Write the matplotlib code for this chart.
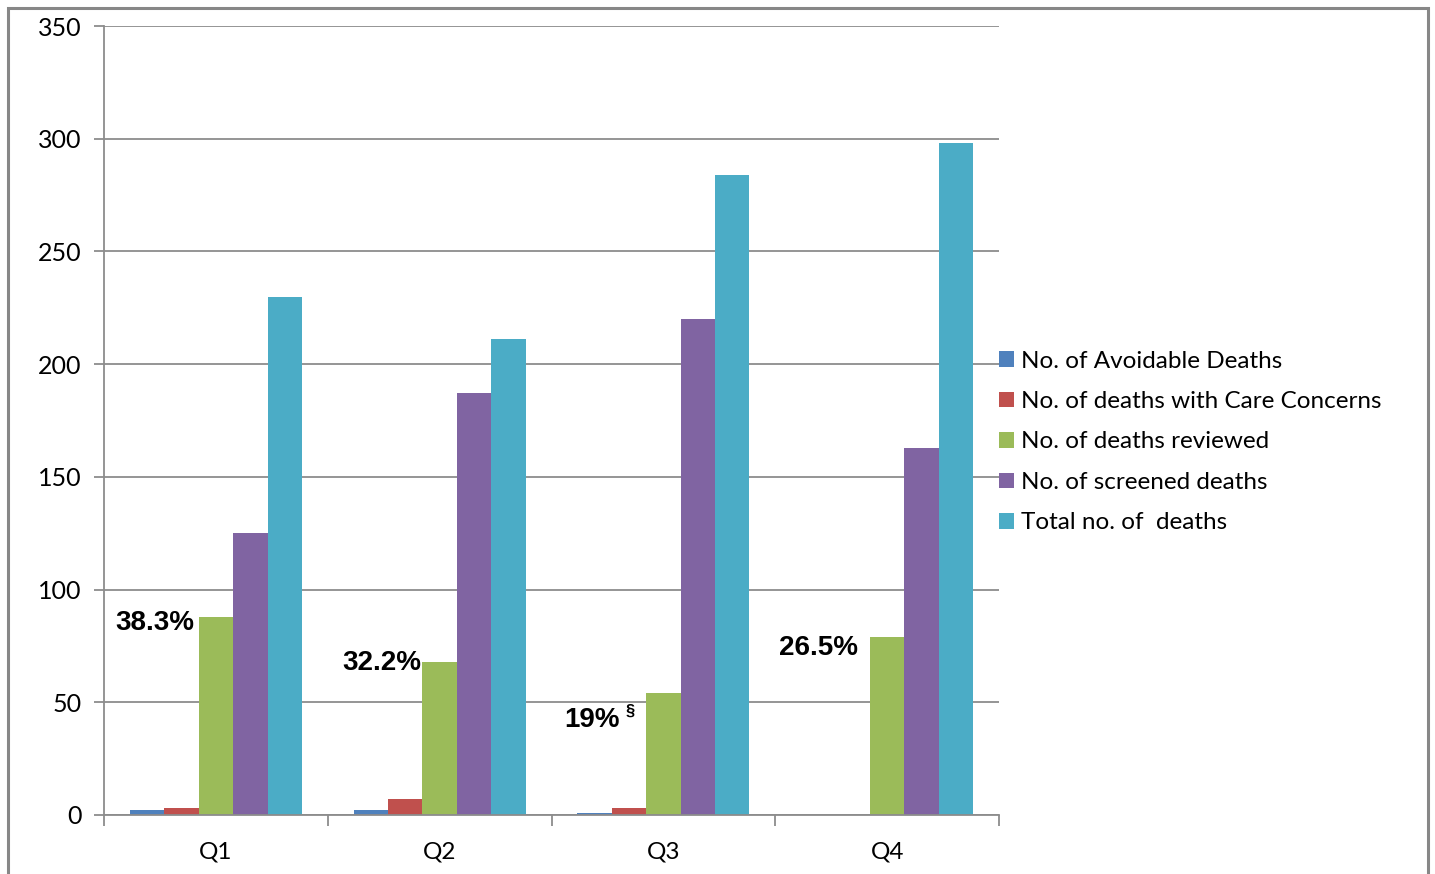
import matplotlib
matplotlib.use("Agg")
import matplotlib.pyplot as plt
import matplotlib.patches as mpatches
import numpy as np

quarters = ["Q1", "Q2", "Q3", "Q4"]
avoidable = [2, 2, 1, 0]
care_concerns = [3, 7, 3, 0]
reviewed = [88, 68, 54, 79]
screened = [125, 187, 220, 163]
total = [230, 211, 284, 298]

series_names = [
    "No. of Avoidable Deaths",
    "No. of deaths with Care Concerns",
    "No. of deaths reviewed",
    "No. of screened deaths",
    "Total no. of  deaths",
]
colors = ["#4F81BD", "#C0504D", "#9BBB59", "#8064A2", "#4BACC6"]
# review-rate labels: height (data units), gap to the green bar (px), footnote
label_y = [85.2, 67.4, 42.1, 74.1]
label_gap = [4, 1, 26, 12]
footnotes = ["", "", "§", ""]

plt.rcParams["font.family"] = ["Lato", "DejaVu Sans"]
grid_col = "#8C8C8C"

fig = plt.figure(figsize=(14.35, 8.74), dpi=100)
ax = fig.add_axes([104 / 1435, 1 - 815 / 874, 895 / 1435, 789 / 874])

series = [avoidable, care_concerns, reviewed, screened, total]
bw = 1 / 6.5
x = np.arange(len(quarters))
for i, (vals, name, c) in enumerate(zip(series, series_names, colors)):
    offs = -0.5 + 0.75 * bw + (i + 0.5) * bw
    ax.bar(x + offs, vals, width=bw, color=c, label=name, zorder=3,
           edgecolor="none")

# review rate (reviewed / total) written left of the green bar
bold = dict(fontweight="bold", family="Liberation Sans", zorder=4)
for k in range(len(quarters)):
    pct = 100 * reviewed[k] / total[k]
    txt = f"{pct:.1f}%".replace(".0%", "%")
    green_left = x[k] - 0.5 + 0.75 * bw + 2 * bw
    ax.annotate(txt, (green_left, label_y[k]), xytext=(-label_gap[k], 0),
                textcoords="offset pixels", ha="right", va="center",
                fontsize=20, **bold)
    if footnotes[k]:
        ax.annotate(footnotes[k], (green_left, label_y[k] + 4),
                    xytext=(-11, 0), textcoords="offset pixels",
                    ha="right", va="center", fontsize=12, **bold)

ax.set_xlim(-0.5, len(quarters) - 0.5)
ax.set_ylim(0, 350)
ax.set_yticks(range(0, 351, 50))
ax.yaxis.grid(True, color=grid_col, lw=1.3, zorder=0)
ax.set_xticks(x)
ax.set_xticklabels(quarters)
ax.set_xticks(np.arange(-0.5, len(quarters)), minor=True)
ax.tick_params(axis="x", which="major", length=0, pad=19, labelsize=17.5)
ax.tick_params(axis="x", which="minor", length=8, width=1.3, color=grid_col)
ax.tick_params(axis="y", length=7, width=1.3, color=grid_col, pad=9,
               labelsize=18)
for s in ["top", "right"]:
    ax.spines[s].set_visible(False)
for s in ["left", "bottom"]:
    ax.spines[s].set_color(grid_col)
    ax.spines[s].set_linewidth(1.3)
    ax.spines[s].set_zorder(4)

ax.legend(loc="center left", bbox_to_anchor=(999 / 1435, 1 - 442 / 874),
          bbox_transform=fig.transFigure, frameon=False, fontsize=17.5,
          handlelength=0.6, handleheight=0.6, handletextpad=0.3,
          labelspacing=0.8, borderaxespad=0, borderpad=0)

# chart area border
border = mpatches.Rectangle((8 / 1435, -0.05), 1420 / 1435, 1.05 - 8 / 874,
                            transform=fig.transFigure, fill=False,
                            edgecolor="#878787", lw=2.2, clip_on=False)
fig.patches.append(border)

fig.savefig("out.png", dpi=100)
